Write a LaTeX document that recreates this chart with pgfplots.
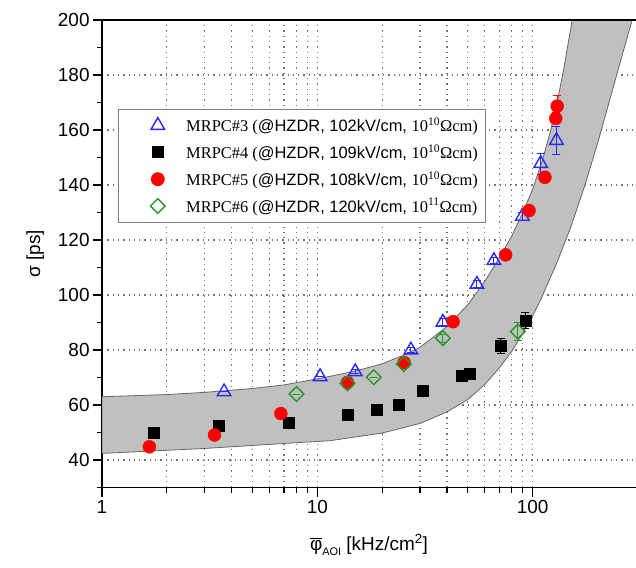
\documentclass[border=0pt]{standalone}
\usepackage{fontspec}
\setmainfont{Liberation Sans}
\newfontfamily\serif{Liberation Serif}
\usepackage{pgfplots}
\pgfplotsset{compat=1.18}
\usepackage{pgfplotstable}

\definecolor{mblue}{RGB}{40,40,255}
\definecolor{mgreen}{RGB}{40,150,40}
\definecolor{mred}{RGB}{255,0,0}
\definecolor{bandgray}{RGB}{192,192,192}

\pgfplotstableread{
x y e
3.69 64.8 0
10.3 70.3 0
15.0 72.1 0.8
27.2 80.0 0.8
38.3 90.1 1.2
55.1 103.9 1.2
66.1 112.5 1.2
89.6 128.6 1.5
109 147.8 3.8
129 156.2 5.2
}\tabA

\pgfplotstableread{
x y e
1.73 50.0 0
3.50 52.3 0
7.40 53.6 0
13.8 56.4 0
18.8 58.2 0
23.9 60.0 0
30.7 65.1 0
46.7 70.7 0.8
51.1 71.3 0.8
71.1 81.5 2.7
92.6 90.8 3.0
}\tabB

\pgfplotstableread{
x y e
1.66 44.8 0
3.33 49.1 0
6.77 56.9 0
13.8 68.2 0
25.3 75.4 0
42.7 90.3 0
74.9 114.6 1.0
96.2 130.7 1.2
114 142.8 1.5
128 164.2 2.0
130 168.7 4.0
}\tabC

\pgfplotstableread{
x y e
8.0 64.0 0
13.8 67.9 0
18.3 70.1 0
25.2 74.9 0
38.3 84.3 1.5
85.3 86.7 3.3
}\tabD

\begin{document}
\begin{tikzpicture}
\begin{axis}[
  scale only axis, width=534bp, height=467.5bp,
  xmode=log, xmin=1, xmax=302, ymin=30, ymax=200,
  axis lines*=left,
  axis line style={line width=1.4bp, black},
  log ticks with fixed point,
  xtick={1,10,100},
  ytick={40,60,...,200},
  minor ytick={30,50,...,190},
  tick align=outside,
  major tick length=9bp, minor tick length=5bp,
  every tick/.style={line width=1.2bp, black},
  xmajorgrids=true, xminorgrids=true, ymajorgrids=true,
  major grid style={dash pattern=on 1.3bp off 4bp, line width=1.2bp, black!55},
  minor grid style={dash pattern=on 1.3bp off 4bp, line width=1.2bp, black!55},
  /pgf/number format/assume math mode=true,
  tick label style={font=\fontsize{19}{21}\selectfont},
  xlabel={\(\overline{\mbox{φ}}\)\raisebox{-0.5ex}{\fontsize{11}{11}\selectfont AOI} [kHz/cm\textsuperscript{2}]},
  ylabel={σ [ps]},
  label style={font=\fontsize{19}{22}\selectfont},
  xlabel style={at={(axis description cs:0.5,-0.123)}, anchor=center},
  ylabel style={at={(axis description cs:-0.125,0.5)}, anchor=center},
  legend cell align=left,
  legend style={at={(rel axis cs:0.03,0.81)}, anchor=north west,
    draw=black!50, line width=0.8bp, fill=white,
    font=\fontsize{16.5}{18}\selectfont, row sep=7.5bp, inner xsep=6bp, inner ysep=6.5bp},
  legend image code/.code={\path (-33bp,0bp) (26bp,0bp); \draw[#1] plot coordinates {(0bp,0bp)};},
]
\addplot[forget plot, fill=bandgray, draw=black!60, line width=0.8bp] coordinates {
(1,63.0) (2,63.8) (3,64.6) (5,66.0) (7,67.3) (10,69.5) (15,72.3) (20,75.0) (25,78.0) (30,81.0)
(40,88.5) (50,96.5) (60,105.0) (70,113.5) (80,121.5) (90,130.0) (100,138.5) (110,148.0) (120,158.5)
(130,170.0) (140,183.0) (150,196.5) (155,203.5)
(302,203.5)
(290,200) (260,187) (230,172) (200,155) (175,140) (150,124.5) (130,112) (110,99) (100,92.5)
(90,86) (80,79.5) (70,73.5) (60,67.5) (50,62) (40,57.5) (30,53.3) (20,49.8) (11.4,47.0) (8,46.3)
(3,44.2) (1,42.4)
} -- cycle;

\addplot[only marks, mark=triangle, mark size=7.8bp, draw=mblue,
  mark options={draw=mblue, fill=white, line width=1.4bp},
  error bars/.cd, y dir=both, y explicit,
  error bar style={line width=1bp, mblue},
  error mark options={rotate=90, mark size=4bp, line width=1bp, mblue}]
  table[x=x, y=y, y error=e] {\tabA};
\addlegendentry{{\serif MRPC\#3 (}@HZDR, 102kV/cm, {\serif 10\textsuperscript{10}Ωcm)}}

\addplot[only marks, mark=square*, mark size=5.5bp, draw=black, fill=black,
  mark options={draw=black, fill=black},
  error bars/.cd, y dir=both, y explicit,
  error bar style={line width=1bp, black},
  error mark options={rotate=90, mark size=4bp, line width=1bp, black}]
  table[x=x, y=y, y error=e] {\tabB};
\addlegendentry{{\serif MRPC\#4 (}@HZDR, 109kV/cm, {\serif 10\textsuperscript{10}Ωcm)}}

\addplot[only marks, mark=*, mark size=6.5bp, draw=mred, fill=mred,
  mark options={draw=mred, fill=mred},
  error bars/.cd, y dir=both, y explicit,
  error bar style={line width=1bp, mred},
  error mark options={rotate=90, mark size=4bp, line width=1bp, mred}]
  table[x=x, y=y, y error=e] {\tabC};
\addlegendentry{{\serif MRPC\#5 (}@HZDR, 108kV/cm, {\serif 10\textsuperscript{10}Ωcm)}}

\addplot[only marks, mark=square, mark size=5.2bp, draw=mgreen,
  mark options={draw=mgreen, fill=white, rotate=45, line width=1.4bp},
  error bars/.cd, y dir=both, y explicit,
  error bar style={line width=1bp, mgreen},
  error mark options={rotate=90, mark size=4bp, line width=1bp, mgreen}]
  table[x=x, y=y, y error=e] {\tabD};
\addlegendentry{{\serif MRPC\#6 (}@HZDR, 120kV/cm, {\serif 10\textsuperscript{11}Ωcm)}}

\coordinate (SW) at (rel axis cs:0,0);
\coordinate (NW) at (rel axis cs:0,1);
\coordinate (NE) at (rel axis cs:1,1);
\end{axis}
\draw[line width=1.4bp, black] (NW) -- (NE);
\pgfresetboundingbox
\path ([xshift=-102bp,yshift=-79.5bp]SW) rectangle ([yshift=20bp]NE);
\end{tikzpicture}
\end{document}
